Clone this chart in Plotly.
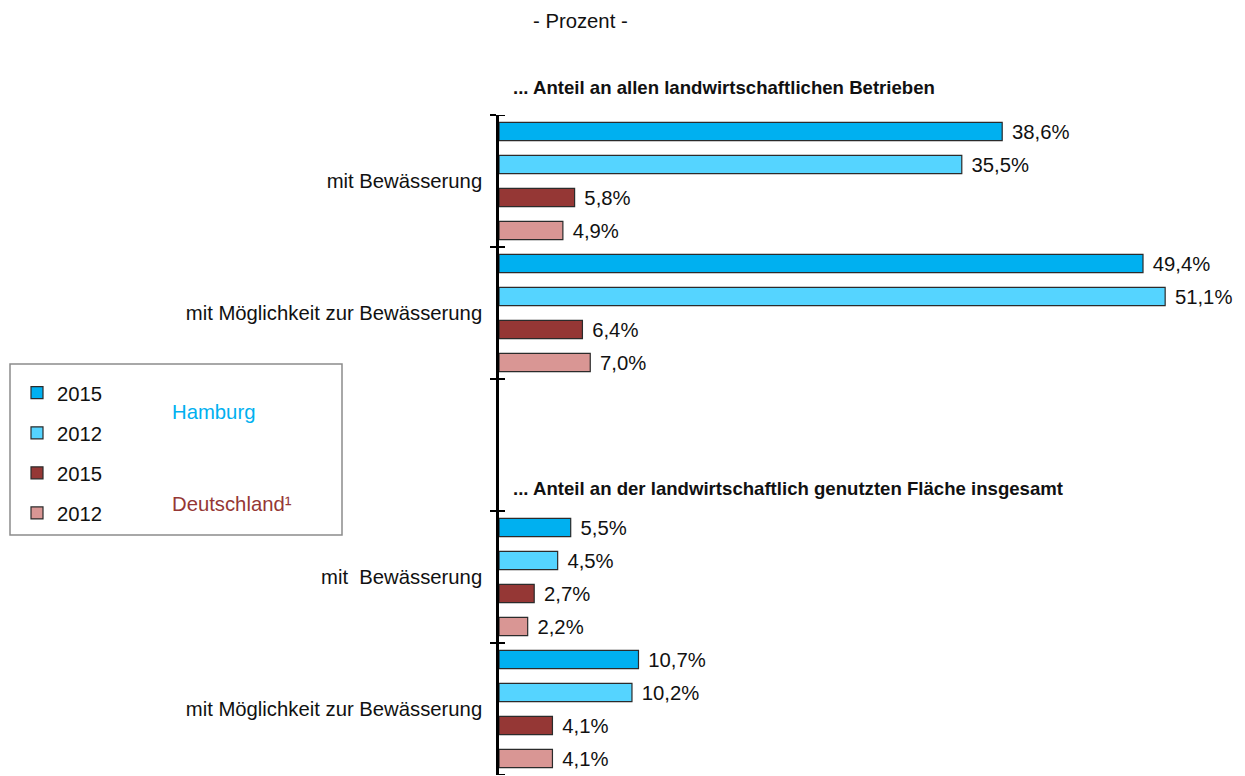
import plotly.graph_objects as go

# ---------------- data ----------------
categories = ["mit Bewässerung", "mit Möglichkeit zur Bewässerung", " ",
              "mit  Bewässerung", "mit Möglichkeit zur Bewässerung\u200b"]
data_categories = [categories[0], categories[1], categories[3], categories[4]]
hh_2015 = [38.6, 49.4, 5.5, 10.7]
hh_2012 = [35.5, 51.1, 4.5, 10.2]
de_2015 = [5.8, 6.4, 2.7, 4.1]
de_2012 = [4.9, 7.0, 2.2, 4.1]
series_names = ["2015", "2012", "2015", "2012"]
series_values = [hh_2015, hh_2012, de_2015, de_2012]
colors = ["#00B0F0", "#55D4FF", "#953735", "#D99694"]
heading_top = "... Anteil an allen landwirtschaftlichen Betrieben"
heading_mid = "... Anteil an der landwirtschaftlich genutzten Fläche insgesamt"

FONT = "Liberation Sans, Arial, sans-serif"
FS = 20.3
W, H = 1245, 776
ML, MR, MT, MB = 499, 29, 115, 1
PW = W - ML - MR
PH = H - MT - MB

def px_x(px):
    return (px - ML) / PW

def px_y(py):
    return (H - MB - py) / PH

fig = go.Figure()
for i, (name, vals, col) in enumerate(zip(series_names, series_values, colors)):
    fig.add_trace(go.Bar(
        y=data_categories, x=vals, name=name, orientation="h",
        marker=dict(color=col, line=dict(color="#2b2b2b", width=1.2)),
        texttemplate="\u2004%{x:.1f}%", textposition="outside",
        textfont=dict(size=FS, color="#111111", family=FONT),
        cliponaxis=False, constraintext="none",
        legendgroup="g%d" % i,
    ))

shapes = []
# inner half of the crossing tick marks
for k in range(len(categories) + 1):
    shapes.append(dict(type="line", xref="x domain", yref="y",
                       x0=0, x1=6 / PW, y0=k - 0.5, y1=k - 0.5,
                       line=dict(color="black", width=2)))
# legend frame
shapes.append(dict(type="rect", xref="paper", yref="paper",
                   x0=px_x(10), x1=px_x(342), y0=px_y(535), y1=px_y(364),
                   line=dict(color="#8c8c8c", width=1.5), fillcolor="rgba(0,0,0,0)"))

annotations = [
    dict(text="- Prozent -", xref="paper", yref="paper", x=px_x(580), y=px_y(21),
         xanchor="center", yanchor="middle", showarrow=False,
         font=dict(size=FS, color="#111111", family=FONT)),
    dict(text="<b>%s</b>" % heading_top, xref="paper", yref="paper", x=px_x(511), y=px_y(88),
         xanchor="left", yanchor="middle", showarrow=False,
         font=dict(size=18.6, color="#111111", family=FONT)),
    dict(text="<b>%s</b>" % heading_mid, xref="paper", yref="paper", x=px_x(511), y=px_y(488),
         xanchor="left", yanchor="middle", showarrow=False,
         font=dict(size=18.6, color="#111111", family=FONT)),
    dict(text="Hamburg", xref="paper", yref="paper", x=px_x(170), y=px_y(412),
         xanchor="left", yanchor="middle", showarrow=False,
         font=dict(size=FS, color="#00B0F0", family=FONT)),
    dict(text="Deutschland¹", xref="paper", yref="paper", x=px_x(170), y=px_y(504),
         xanchor="left", yanchor="middle", showarrow=False,
         font=dict(size=FS, color="#953735", family=FONT)),
]

fig.update_layout(
    width=W, height=H,
    margin=dict(l=ML, r=MR, t=MT, b=MB),
    paper_bgcolor="white", plot_bgcolor="white",
    separators=",.",
    barmode="group", bargap=0, bargroupgap=0.45,
    font=dict(family=FONT, size=FS, color="#111111"),
    xaxis=dict(range=[0, 55], visible=False, showgrid=False, zeroline=False),
    yaxis=dict(type="category", categoryorder="array", categoryarray=categories,
               range=[4.5, -0.5], showline=True, linecolor="black", linewidth=2.5,
               ticks="outside", tickson="boundaries", ticklen=6, tickwidth=2,
               tickcolor="black", showgrid=False, zeroline=False,
               tickfont=dict(size=FS, color="#111111", family=FONT),
               ticklabelstandoff=10),
    showlegend=True,
    legend=dict(x=px_x(17), y=px_y(373), xanchor="left", yanchor="top",
                bgcolor="rgba(0,0,0,0)", borderwidth=0,
                font=dict(size=FS, color="#111111", family=FONT),
                tracegroupgap=10.7, traceorder="grouped"),
    shapes=shapes, annotations=annotations,
)

fig.write_html("out.html", config={"displayModeBar": False},
               post_script="document.body.style.margin='0px';document.body.style.padding='0px';")
